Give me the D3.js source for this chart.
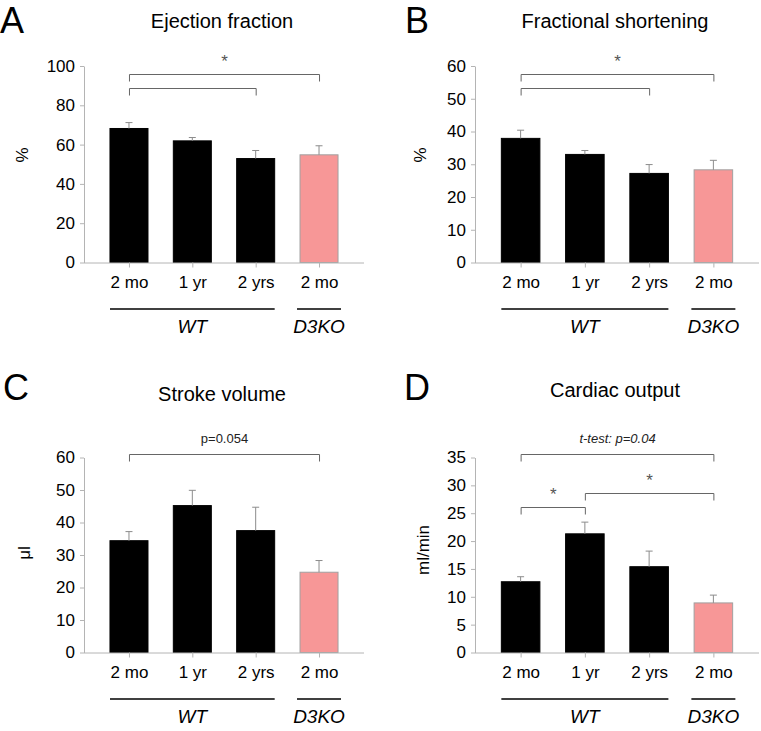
<!DOCTYPE html>
<html><head><meta charset="utf-8">
<script src="https://cdn.jsdelivr.net/npm/d3@7"></script>
<style>
body{margin:0;background:#fff;}
svg text{font-family:"Liberation Sans",Arial,sans-serif;}
</style></head>
<body><svg id="c" width="761" height="731"></svg>
<script>
const categories = ["2 mo", "1 yr", "2 yrs", "2 mo"];
const groupNames = ["WT", "D3KO"];
const groupSpans = [[0, 2], [3, 3]];

const efValues = [68.2, 61.9, 52.9, 54.8];
const efErrors = [3.0, 1.7, 4.1, 4.6];
const efTicks = [0, 20, 40, 60, 80, 100];

const fsValues = [37.9, 33.0, 27.2, 28.3];
const fsErrors = [2.5, 1.2, 2.7, 2.9];
const fsTicks = [0, 10, 20, 30, 40, 50, 60];

const svValues = [34.4, 45.2, 37.5, 24.7];
const svErrors = [2.8, 4.7, 7.2, 3.6];
const svTicks = [0, 10, 20, 30, 40, 50, 60];

const coValues = [12.7, 21.3, 15.4, 8.9];
const coErrors = [0.9, 2.1, 2.8, 1.4];
const coTicks = [0, 5, 10, 15, 20, 25, 30, 35];

// brackets: [from, to, level (data units), label]
const efBrackets = [[0, 3, 96, "*"], [0, 2, 89, ""]];
const fsBrackets = [[0, 3, 57.6, "*"], [0, 2, 53.3, ""]];
const svBrackets = [[0, 3, 61.2, "p=0.054"]];
const coBrackets = [[0, 3, 35.7, "t-test: p=0.04"], [0, 1, 26.2, "*"], [1, 3, 28.7, "*"]];

const svg = d3.select("#c");
const isKO = i => i === 3;

function panel(cfg) {
  const g = svg.append("g");
  const x = d3.scalePoint().domain(d3.range(categories.length)).range([cfg.x0, cfg.x1]).padding(0.71);
  const y = d3.scaleLinear().domain([0, cfg.ticks[cfg.ticks.length - 1]]).range([cfg.y0, cfg.yTop]);
  const bw = x.step() * 0.6;

  // panel letter & title
  g.append("text").attr("x", cfg.lx).attr("y", cfg.ly).attr("font-size", 36).text(cfg.letter);
  g.append("text").attr("x", (x(0) + x(3)) / 2 - 2).attr("y", cfg.ty).attr("font-size", 20)
    .attr("text-anchor", "middle").text(cfg.title);

  // y axis
  const ya = g.append("g").attr("transform", `translate(${cfg.x0},0)`)
    .call(d3.axisLeft(y).tickValues(cfg.ticks).tickSize(4).tickSizeOuter(0).tickPadding(5));
  ya.select(".domain").attr("stroke", "#b4b4b4");
  ya.selectAll(".tick line").attr("stroke", "#b4b4b4");
  ya.selectAll(".tick text").attr("font-size", 17).attr("fill", "#000")
    .attr("font-family", "Liberation Sans, Arial, sans-serif");

  // y label
  g.append("text").attr("transform", `translate(${cfg.ylx},${cfg.yly}) rotate(-90)`)
    .attr("text-anchor", "middle").attr("font-size", 17).text(cfg.yLabel);

  // bars
  g.selectAll("rect.bar").data(cfg.values).join("rect")
    .attr("x", (d, i) => x(i) - bw / 2).attr("y", d => y(d))
    .attr("width", bw).attr("height", d => y(0) - y(d))
    .attr("fill", (d, i) => isKO(i) ? "#f79797" : "#000")
    .attr("stroke", (d, i) => isKO(i) ? "#a0a0a0" : "#000").attr("stroke-width", 1);

  // error bars
  const eb = g.selectAll("g.err").data(cfg.values).join("g");
  eb.append("line").attr("x1", (d, i) => x(i)).attr("x2", (d, i) => x(i))
    .attr("y1", d => y(d)).attr("y2", (d, i) => y(d + cfg.errors[i]))
    .attr("stroke", "#8c8c8c").attr("stroke-width", 1);
  eb.append("line").attr("x1", (d, i) => x(i) - 3.5).attr("x2", (d, i) => x(i) + 3.5)
    .attr("y1", (d, i) => y(d + cfg.errors[i])).attr("y2", (d, i) => y(d + cfg.errors[i]))
    .attr("stroke", "#8c8c8c").attr("stroke-width", 1);

  // x axis
  const xa = g.append("g").attr("transform", `translate(0,${cfg.y0})`)
    .call(d3.axisBottom(x).tickSize(5).tickSizeOuter(0).tickPadding(8).tickFormat(i => categories[i]));
  xa.select(".domain").attr("d", `M${cfg.x0},0.5H${cfg.x1}`).attr("stroke", "#b4b4b4");
  xa.selectAll(".tick line").attr("stroke", "#b4b4b4");
  xa.selectAll(".tick text").attr("font-size", 17).attr("fill", "#000")
    .attr("font-family", "Liberation Sans, Arial, sans-serif");

  // group lines
  groupSpans.forEach((s, k) => {
    const pad = s[0] === s[1] ? 22 : bw / 2;
    const xa0 = x(s[0]) - pad, xa1 = x(s[1]) + pad;
    g.append("line").attr("x1", xa0).attr("x2", xa1).attr("y1", cfg.y0 + 46.5).attr("y2", cfg.y0 + 46.5)
      .attr("stroke", "#000").attr("stroke-width", 1.5);
    g.append("text").attr("x", (xa0 + xa1) / 2).attr("y", cfg.y0 + 70.5)
      .attr("text-anchor", "middle").attr("font-size", 19).attr("font-style", "italic").text(groupNames[k]);
  });

  // brackets
  cfg.brackets.forEach(b => {
    const by = Math.round(y(b[2])) + 0.5;
    const xa0 = x(b[0]) + 0.5, xa1 = x(b[1]) + 0.5;
    g.append("path").attr("d", `M${xa0},${by + 7}V${by}H${xa1}V${by + 7}`)
      .attr("fill", "none").attr("stroke", "#666").attr("stroke-width", 1);
    if (b[3] === "*") {
      g.append("text").attr("x", (xa0 + xa1) / 2).attr("y", by - 8).attr("text-anchor", "middle")
        .attr("font-size", 17).attr("fill", "#555").text("*");
    } else if (b[3]) {
      g.append("text").attr("x", (xa0 + xa1) / 2).attr("y", by - 12).attr("text-anchor", "middle")
        .attr("font-size", 13).attr("fill", "#222")
        .attr("font-style", b[3].startsWith("t-") ? "italic" : "normal").text(b[3]);
    }
  });
}

panel({letter: "A", lx: 0, ly: 33, title: "Ejection fraction", ty: 28, x0: 84, x1: 364, y0: 262.5, yTop: 66,
  ticks: efTicks, values: efValues, errors: efErrors, yLabel: "%", ylx: 28, yly: 155, brackets: efBrackets});
panel({letter: "B", lx: 405, ly: 33, title: "Fractional shortening", ty: 28, x0: 475, x1: 759, y0: 262.5, yTop: 66,
  ticks: fsTicks, values: fsValues, errors: fsErrors, yLabel: "%", ylx: 426, yly: 155, brackets: fsBrackets});
panel({letter: "C", lx: 3, ly: 400, title: "Stroke volume", ty: 401, x0: 84, x1: 364, y0: 652.5, yTop: 457.5,
  ticks: svTicks, values: svValues, errors: svErrors, yLabel: "μl", ylx: 30, yly: 553, brackets: svBrackets});
panel({letter: "D", lx: 404, ly: 400, title: "Cardiac output", ty: 397, x0: 475, x1: 759, y0: 652.5, yTop: 457.5,
  ticks: coTicks, values: coValues, errors: coErrors, yLabel: "ml/min", ylx: 429, yly: 550, brackets: coBrackets});
</script></body></html>
